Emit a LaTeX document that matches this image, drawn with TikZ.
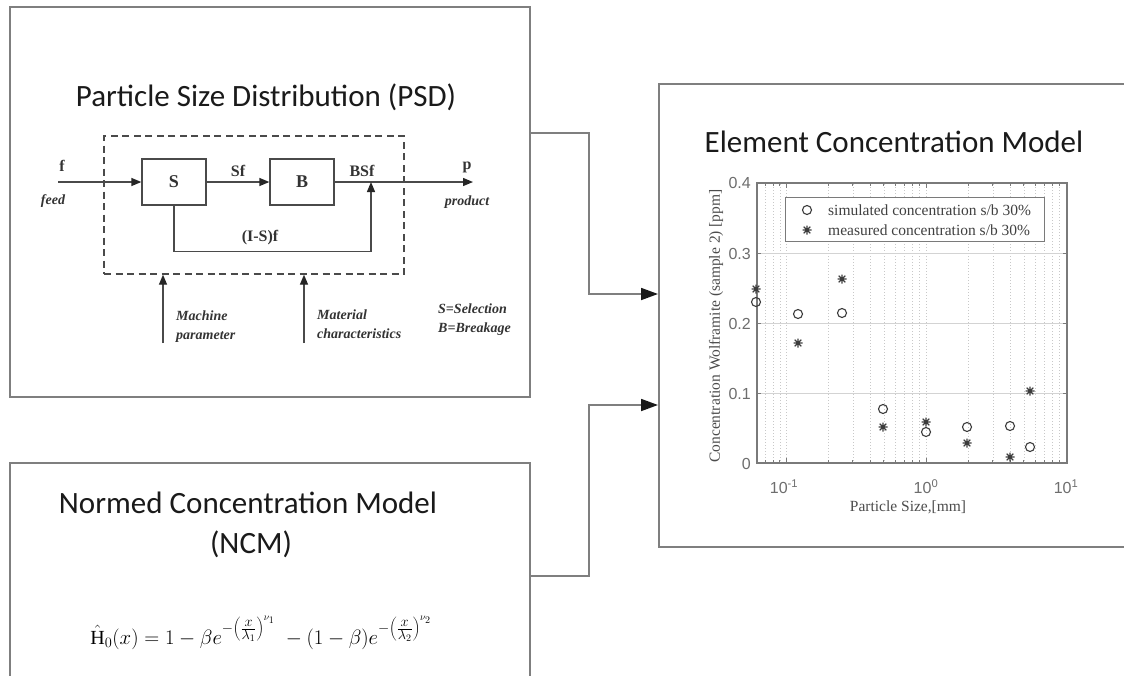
\documentclass[tikz,border=0pt]{standalone}
\usepackage{fontspec}
\setmainfont{Carlito}
\newfontfamily\tnr{Liberation Serif}
\newfontfamily\arl{Liberation Sans}
\usetikzlibrary{arrows.meta}
\definecolor{boxgray}{HTML}{7F7F7F}
\definecolor{linegray}{HTML}{4A4A4A}
\definecolor{txtdark}{HTML}{333333}
\definecolor{titleblack}{HTML}{1A1A1A}
\definecolor{gridgray}{HTML}{C8C8C8}
\definecolor{axgray}{HTML}{7A7A7A}
\definecolor{ticktxt}{HTML}{6E6E6E}
\definecolor{marker}{HTML}{3C3C3C}
\tikzset{
  outerbox/.style={draw=boxgray, line width=1.8pt},
  conn/.style={draw=boxgray, line width=1.8pt, -{Triangle[length=17pt,width=12pt,color=black!90]}},
  blk/.style={draw=linegray, line width=1.3pt},
  blkarrow/.style={blk, -{Triangle[length=10pt,width=8pt,color=black!85]}},
  blkbox/.style={draw=linegray, line width=1.3pt, minimum width=64pt, minimum height=46pt, inner sep=0pt, font=\tnr\bfseries\fontsize{18}{20}\selectfont, text=txtdark},
  lbl/.style={font=\tnr\bfseries\fontsize{16}{18}\selectfont, text=txtdark, inner sep=0pt},
  ilbl/.style={font=\tnr\bfseries\itshape\fontsize{14}{17}\selectfont, text=txtdark, inner sep=0pt, align=left},
  title/.style={font=\fontsize{31}{37}\selectfont, text=titleblack, inner sep=0pt},
  gridv/.style={draw=gridgray, line width=0.6pt, dash pattern=on 1pt off 2pt},
  gridh/.style={draw=gridgray!80, line width=0.6pt},
  axframe/.style={draw=axgray, line width=1.2pt},
  ticklbl/.style={font=\arl\fontsize{16}{18}\selectfont, text=ticktxt, inner sep=0pt},
  axlbl/.style={font=\tnr\fontsize{15.5}{18}\selectfont, text=black!70, inner sep=0pt},
  leglbl/.style={font=\tnr\fontsize{15.5}{18}\selectfont, text=black!75, inner sep=0pt, anchor=west},
  circmark/.style={draw=marker, line width=1.1pt},
  astmark/.pic={\draw[draw=marker, line width=1.2pt] (-4.5,0)--(4.5,0) (0,-4.5)--(0,4.5) (-3.3,-3.3)--(3.3,3.3) (-3.3,3.3)--(3.3,-3.3);}
}
\begin{document}
\begin{tikzpicture}[x=1pt,y=-1pt]
\useasboundingbox (0,0) rectangle (1124,675);
\fill[white] (0,0) rectangle (1124,675);

% ---------- outer boxes ----------
\node[outerbox, minimum width=520pt, minimum height=390pt, inner sep=0pt, anchor=north west] (psd) at (9,6) {};
\node[outerbox, minimum width=520pt, minimum height=230pt, inner sep=0pt, anchor=north west] (ncm) at (9,462) {};
\node[outerbox, minimum width=490pt, minimum height=463pt, inner sep=0pt, anchor=north west] (ecm) at (658,83) {};

% ---------- titles ----------
\node[title, anchor=base] (psdtitle) at (266,106) {Particle Size Distribution (PSD)};
\node[title, anchor=base] (ecmtitle) at (894,152) {Element Concentration Model};
\node[title, anchor=base] (ncmtitle) at (248,513) {Normed Concentration Model};
\node[title, anchor=base] (ncmsub) at (251,553) {(NCM)};

% ---------- connectors ----------
\coordinate (c1a) at (529,133);
\coordinate (c1b) at (589,294);
\coordinate (t1) at (658,294);
\draw[conn] (c1a) -| (c1b) -- (t1);
\coordinate (c2a) at (529,576);
\coordinate (c2b) at (589,405);
\coordinate (t2) at (658,405);
\draw[conn] (c2a) -| (c2b) -- (t2);

% ---------- block diagram ----------
\node[draw=linegray, line width=1.3pt, dash pattern=on 7pt off 4.5pt, minimum width=300pt, minimum height=138pt, inner sep=0pt] (dbox) at (254,205) {};
\node[blkbox] (S) at (174,182) {S};
\node[blkbox] (B) at (302,182) {B};
\coordinate (fin) at (58,182);
\coordinate (pout) at (473,182);
\coordinate (junc) at (371,182);
\draw[blkarrow] (fin) -- (S.west);
\draw[blkarrow] (S.east) -- (B.west);
\draw[blkarrow] (B.east) -- (pout);
\draw[blkarrow] (S.south) -- ++(0,46) -| (junc);
\coordinate (mach) at (163,343);
\coordinate (mat) at (304,343);
\draw[blkarrow] (mach) -- (mach |- dbox.south);
\draw[blkarrow] (mat) -- (mat |- dbox.south);

\node[lbl] (lf) at (62,166) {f};
\node[ilbl] (lfeed) at (53,201) {feed};
\node[lbl] (lsf) at (238,171) {Sf};
\node[lbl] (lbsf) at (362,171) {BSf};
\node[lbl] (lp) at (467,167) {p};
\node[ilbl] (lprod) at (467,202) {product};
\node[lbl] (lis) at (260,238) {(I-S)f};
\node[ilbl, anchor=west] (lmach) at (176,327) {Machine\\[2pt]parameter};
\node[ilbl, anchor=west] (lmat) at (317,324) {Material\\[2pt]characteristics};
\node[ilbl, anchor=west] (lsel) at (438,320) {S=Selection\\[2pt]B=Breakage};

% ---------- formula ----------
\node[inner sep=0pt, font=\fontsize{20}{24}\selectfont, anchor=base] (formula) at (261,644)
  {$\hat{\mbox{\tnr H}}_0\bigl(x\bigr)=1-\beta e^{-\left(\frac{\scriptstyle x}{\scriptstyle\lambda_1}\right)^{\nu_1}}\;-\bigl(1-\beta\bigr)e^{-\left(\frac{\scriptstyle x}{\scriptstyle\lambda_2}\right)^{\nu_2}}$};

% ---------- plot ----------
\foreach \v in {0.07,0.08,0.09,0.1,0.2,0.3,0.4,0.5,0.6,0.7,0.8,0.9,1,2,3,4,5,6,7,8,9} {
  \pgfmathsetmacro\gx{786+140*(log10(\v)+1)}
  \draw[gridv] (\gx,184) -- (\gx,462);
  \draw[axframe, line width=0.8pt] (\gx,463) -- (\gx,460) (\gx,183) -- (\gx,186);
}
\foreach \gy in {253,323,393} {
  \draw[gridh] (758,\gy) -- (1066,\gy);
}
\foreach \gy in {183,253,323,393,463} {
  \draw[axframe, line width=0.8pt] (757,\gy) -- (761,\gy) (1067,\gy) -- (1063,\gy);
}
\draw[axframe, line width=0.8pt] (786,463) -- (786,458) (926,463) -- (926,458) (786,183) -- (786,188) (926,183) -- (926,188);
\draw[axframe] (757,183) rectangle (1067,463);

% tick labels
\node[ticklbl, anchor=east] (y4) at (751,183) {0.4};
\node[ticklbl, anchor=east] (y3) at (751,254) {0.3};
\node[ticklbl, anchor=east] (y2) at (751,324) {0.2};
\node[ticklbl, anchor=east] (y1) at (751,394) {0.1};
\node[ticklbl, anchor=east] (y0) at (751,464) {0};
\node[ticklbl] (xm1) at (784,487) {10\textsuperscript{-1}};
\node[ticklbl] (x0) at (926,487) {10\textsuperscript{0}};
\node[ticklbl] (x1) at (1066,487) {10\textsuperscript{1}};

% axis labels
\node[axlbl, rotate=90] (ylab) at (716,326) {Concentration Wolframite (sample 2) [ppm]};
\node[axlbl] (xlab) at (908,507) {Particle Size,[mm]};

% data
\foreach \px/\py in {756/302, 798/314, 842/313, 883/409, 926/432, 967/427, 1010/426, 1030/447} {
  \draw[circmark] (\px,\py) circle[radius=4.5pt];
}
\foreach \px/\py in {756/289, 798/343, 842/279, 883/427, 926/422, 967/443, 1010/457, 1030/391} {
  \pic at (\px,\py) {astmark};
}

% legend
\node[draw=axgray, line width=1.2pt, fill=white, minimum width=259pt, minimum height=44pt, inner sep=0pt, anchor=north west] (legend) at (785,197) {};
\draw[circmark] (807,210) circle[radius=4.5pt];
\pic at (807,230) {astmark};
\node[leglbl] (leg1) at (828,210) {simulated concentration s/b 30\%};
\node[leglbl] (leg2) at (828,230) {measured concentration s/b 30\%};
\end{tikzpicture}
\end{document}
